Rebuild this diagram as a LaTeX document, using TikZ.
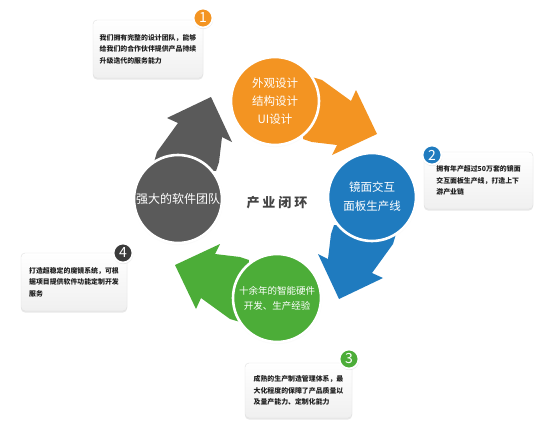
\documentclass[tikz,border=0pt]{standalone}
\usepackage{fontspec}
\setmainfont{Noto Sans CJK SC}
\usetikzlibrary{shadows}
\definecolor{cOrange}{HTML}{F39422}
\definecolor{cBlue}{HTML}{1F7BBF}
\definecolor{cGreen}{HTML}{4CAD38}
\definecolor{cGray}{HTML}{5A5A5A}
\definecolor{cDark}{HTML}{3B3B3B}
\definecolor{cText}{HTML}{444444}
\newcommand\cyclearrow[3]{%
  \begin{scope}[shift={(#1)}, rotate=#2]
    \fill[#3] (-26,-30) -- (-21,-47) -- (0,-76) -- (-11,-81) -- (33,-102)
      -- (54,-57) -- (44,-62) -- (41,-37) -- (38,-28) -- cycle;
  \end{scope}}
\begin{document}
\begin{tikzpicture}[x=1pt, y=-1pt,
  bigcirc/.style={circle, minimum size=88pt, inner sep=0pt, draw=white,
    line width=2.6pt, text=white, align=center,
    circular drop shadow={shadow xshift=0pt, shadow yshift=-1pt, opacity=0.15, shadow scale=1.03}},
  infobox/.style={rectangle, rounded corners=4pt, top color=white, bottom color=black!6,
    draw=black!12, line width=0.4pt, align=left, text=black!88,
    font=\fontsize{6.9}{11.5}\selectfont\bfseries,
    drop shadow={shadow xshift=0pt, shadow yshift=-1.5pt, opacity=0.18}},
  badge/.style={circle, minimum size=19pt, inner sep=0pt, draw=white,
    line width=1.8pt, text=white, font=\fontsize{14}{14}\selectfont,
    circular drop shadow={shadow xshift=0pt, shadow yshift=-0.8pt, opacity=0.2}}]
\useasboundingbox[fill=white] (0,0) rectangle (547,431);

\coordinate (cg) at (178,199);
\coordinate (co) at (275,101);
\coordinate (cb) at (372,197);
\coordinate (cn) at (277,298);

% arrows
\cyclearrow{cg}{0}{cGray}
\cyclearrow{co}{-90}{cOrange}
\cyclearrow{cb}{-180}{cBlue}
\cyclearrow{cn}{90}{cGreen}

% circles
\node[bigcirc, fill=cGray, font=\fontsize{12}{18}\selectfont] (team) at (cg) {强大的软件团队};
\node[bigcirc, fill=cOrange, font=\fontsize{11.5}{18}\selectfont] (design) at (co) {外观设计\\结构设计\\UI设计};
\node[bigcirc, fill=cBlue, font=\fontsize{11.5}{19}\selectfont] (panel) at (cb) {镜面交互\\面板生产线};
\node[bigcirc, fill=cGreen, font=\fontsize{9.5}{15}\selectfont] (hw) at (cn) {十余年的智能硬件\\开发、生产经验};

\node[text=cText, font=\fontsize{13}{13}\selectfont\bfseries] (loop) at (277,203)
  {产\hspace{3pt}业\hspace{3pt}闭\hspace{3pt}环};

% info boxes
\node[infobox, minimum width=110pt, minimum height=58pt] (box1) at (148,49)
  {我们拥有完整的设计团队，能够\\给我们的合作伙伴提供产品持续\\升级迭代的服务能力};
\node[badge, fill=cOrange] (b1) at (203,18) {1};

\node[infobox, minimum width=109pt, minimum height=57pt] (box2) at (478.5,180.5)
  {拥有年产超过50万套的镜面\\交互面板生产线，打造上下\\游产业链};
\node[badge, fill=cBlue] (b2) at (432,155) {2};

\node[infobox, minimum width=107pt, minimum height=55pt] (box3) at (298.5,390.5)
  {成熟的生产制造管理体系，最\\大化程度的保障了产品质量以\\及量产能力、定制化能力};
\node[badge, fill=cGreen] (b3) at (349,359) {3};

\node[infobox, minimum width=106pt, minimum height=58pt] (box4) at (74,282)
  {打造超稳定的魔镜系统，可根\\据项目提供软件功能定制开发\\服务};
\node[badge, fill=cDark] (b4) at (123,253) {4};
\end{tikzpicture}
\end{document}
